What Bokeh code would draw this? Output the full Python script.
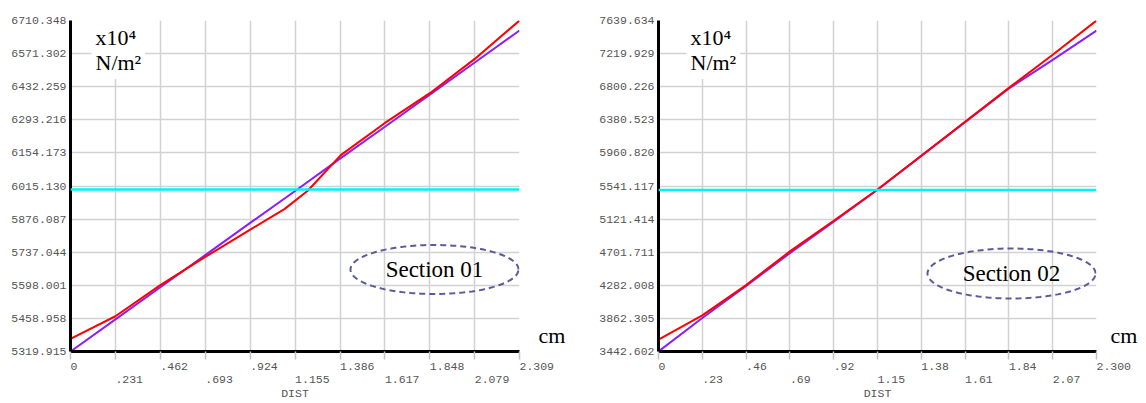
import numpy as np
from bokeh.plotting import figure
from bokeh.layouts import row
from bokeh.models import (FixedTicker, Span, Label, LinearAxis, PolyAnnotation,
                          PrintfTickFormatter, CustomJSTickFormatter)
from bokeh.embed import file_html
from bokeh.resources import INLINE

# ---------------- data: Section 01 ----------------
s1_xticks = [0, 0.231, 0.462, 0.693, 0.924, 1.155, 1.386, 1.617, 1.848, 2.079, 2.309]
s1_xlabels = ["0", ".231", ".462", ".693", ".924", "1.155", "1.386", "1.617", "1.848", "2.079", "2.309"]
s1_yticks = [5319.915, 5458.958, 5598.001, 5737.044, 5876.087, 6015.130,
             6154.173, 6293.216, 6432.259, 6571.302, 6710.348]
s1_purple_x = [0, 0.231, 0.462, 0.693, 0.924, 1.155, 1.386, 1.617, 1.848, 2.079, 2.309]
s1_purple_y = [5319.9, 5455.0, 5590.0, 5725.0, 5860.0, 5994.0, 6130.0, 6264.0, 6399.0, 6534.0, 6668.5]
s1_red_x = [0, 0.231, 0.462, 0.693, 0.924, 1.10, 1.22, 1.39, 1.617, 1.848, 2.079, 2.309]
s1_red_y = [5373.0, 5468.0, 5599.0, 5717.0, 5832.0, 5918.0, 5995.0, 6145.0, 6280.0, 6405.0, 6549.0, 6710.3]
s1_limit = 6000.0
s1_name = "Section 01"

# ---------------- data: Section 02 ----------------
s2_xticks = [0, 0.23, 0.46, 0.69, 0.92, 1.15, 1.38, 1.61, 1.84, 2.07, 2.30]
s2_xlabels = ["0", ".23", ".46", ".69", ".92", "1.15", "1.38", "1.61", "1.84", "2.07", "2.300"]
s2_yticks = [3442.602, 3862.305, 4282.008, 4701.711, 5121.414, 5541.117,
             5960.820, 6380.523, 6800.226, 7219.929, 7639.634]
s2_purple_x = [0, 0.23, 0.46, 0.69, 0.92, 1.15, 1.38, 1.61, 1.84, 2.07, 2.30]
s2_purple_y = [3442.6, 3868.0, 4275.0, 4688.0, 5090.0, 5493.0, 5923.0, 6351.0, 6779.0, 7140.0, 7512.0]
s2_red_x = [0, 0.23, 0.46, 0.69, 0.92, 1.15, 1.38, 1.61, 1.84, 2.07, 2.30]
s2_red_y = [3594.0, 3900.0, 4285.0, 4712.0, 5100.0, 5497.0, 5925.0, 6355.0, 6785.0, 7206.0, 7639.6]
s2_limit = 5490.0
s2_name = "Section 02"

unit_text = "x10\u2074\nN/m\u00b2"
x_title = "DIST"
x_unit = "cm"

MONO = "Liberation Mono"
SERIF = "Liberation Serif"
TICK_SIZE = "11.5px"
LABEL_GREY = "#555555"
GRID_GREY = "#d2d2d2"
HEIGHT = 403
B_TOP, B_BOTTOM = 20, 52


def make_chart(xt, xl, yt, px, py, rx, ry, limit, name, width, b_left, b_right,
               unit_dx, unit_dy, cm_standoff, ell_cx_px, ell_cy_px, ell_rx_px, ell_ry_px):
    frame_w = width - b_left - b_right
    frame_h = HEIGHT - B_TOP - B_BOTTOM
    x0, x1 = xt[0], xt[-1]
    y0, y1 = yt[0], yt[-1]
    p = figure(width=width, height=HEIGHT, output_backend="svg", toolbar_location=None,
               x_range=(x0, x1), y_range=(y0, y1),
               min_border_left=b_left, min_border_right=b_right,
               min_border_top=B_TOP, min_border_bottom=B_BOTTOM)
    p.outline_line_color = None
    p.background_fill_color = "white"

    # grid
    p.xgrid.ticker = FixedTicker(ticks=xt)
    p.ygrid.ticker = FixedTicker(ticks=yt)
    for g in (p.xgrid, p.ygrid):
        g.grid_line_color = GRID_GREY
        g.grid_line_width = 1.5

    # y axis
    p.yaxis.ticker = FixedTicker(ticks=yt)
    p.yaxis.formatter = PrintfTickFormatter(format="%.3f")
    p.yaxis.axis_line_color = "black"
    p.yaxis.axis_line_width = 3
    p.yaxis.minor_tick_line_color = None
    p.yaxis.major_tick_in = 0
    p.yaxis.major_tick_out = 0
    p.yaxis.major_label_standoff = 4
    p.yaxis.major_label_text_font = MONO
    p.yaxis.major_label_text_font_size = TICK_SIZE
    p.yaxis.major_label_text_color = LABEL_GREY

    # x axis: labels left-aligned at the tick (leading no-break spaces in a mono font),
    # staggered over two rows
    padded = ["\u00a0" * len(s) + s for s in xl]
    xa = p.xaxis[0]
    xa.ticker = FixedTicker(ticks=xt)
    xa.formatter = CustomJSTickFormatter(args=dict(labels=padded),
                                         code="return (index % 2 == 0) ? labels[index] : '';")
    xa.axis_line_color = "black"
    xa.axis_line_width = 3
    xa.minor_tick_line_color = None
    xa.major_tick_in = 0
    xa.major_tick_out = 8
    xa.major_tick_line_color = "#c4c4c4"
    xa.major_tick_line_width = 1.5
    xa.major_label_standoff = 0
    xa.major_label_text_font = MONO
    xa.major_label_text_font_size = TICK_SIZE
    xa.major_label_text_color = LABEL_GREY

    xb = LinearAxis(ticker=FixedTicker(ticks=xt),
                    formatter=CustomJSTickFormatter(args=dict(labels=padded),
                                                    code="return (index % 2 == 1) ? labels[index] : '';"),
                    axis_line_color=None, major_tick_line_color=None, minor_tick_line_color=None,
                    major_tick_in=0, major_tick_out=0, major_label_standoff=-3,
                    major_label_text_font=MONO, major_label_text_font_size=TICK_SIZE,
                    major_label_text_color=LABEL_GREY,
                    axis_label=x_title, axis_label_standoff=-2,
                    axis_label_text_font=MONO, axis_label_text_font_size=TICK_SIZE,
                    axis_label_text_font_style="normal", axis_label_text_color=LABEL_GREY)
    p.add_layout(xb, "below")

    # unit of x, set just right of the axis end
    cm_y = y0 + 16.0 / frame_h * (y1 - y0)
    ca = LinearAxis(ticker=FixedTicker(ticks=[cm_y]),
                    formatter=CustomJSTickFormatter(args=dict(t=x_unit), code="return t;"),
                    axis_line_color=None, major_tick_line_color=None, minor_tick_line_color=None,
                    major_tick_in=0, major_tick_out=0, major_label_standoff=cm_standoff,
                    major_label_text_font=SERIF, major_label_text_font_size="22px",
                    major_label_text_color="black")
    p.add_layout(ca, "right")

    # limit line and the two curves
    p.add_layout(Span(location=limit, dimension="width", line_color="#00f2f2", line_width=2.5))
    p.line(px, py, line_color="#8a1eff", line_width=2)
    p.line(rx, ry, line_color="#ff0000", line_width=2)

    # unit box
    p.add_layout(Label(x=x0, y=y1, x_offset=unit_dx, y_offset=unit_dy, text=unit_text,
                       text_align="left", text_baseline="top", text_line_height=1.02,
                       text_font=SERIF, text_font_size="22px", text_color="black",
                       background_fill_color="white", padding=4))

    # dashed ellipse with section name
    cx = x0 + ell_cx_px / frame_w * (x1 - x0)
    cy = y0 + ell_cy_px / frame_h * (y1 - y0)
    erx = ell_rx_px / frame_w * (x1 - x0)
    ery = ell_ry_px / frame_h * (y1 - y0)
    t = np.linspace(0, 2 * np.pi, 160)
    p.add_layout(PolyAnnotation(xs=list(cx + erx * np.cos(t)), ys=list(cy + ery * np.sin(t)),
                                fill_color=None, line_color="#5a5a9c", line_alpha=1.0,
                                line_width=2, line_dash="6 4"))
    p.add_layout(Label(x=cx, y=cy, text=name, text_align="center", text_baseline="middle",
                       text_font=SERIF, text_font_size="23px", text_color="black"))
    return p


p1 = make_chart(s1_xticks, s1_xlabels, s1_yticks, s1_purple_x, s1_purple_y,
                s1_red_x, s1_red_y, s1_limit, s1_name, width=590, b_left=70, b_right=71,
                unit_dx=21, unit_dy=0, cm_standoff=19,
                ell_cx_px=364, ell_cy_px=82, ell_rx_px=84, ell_ry_px=24.5)
p2 = make_chart(s2_xticks, s2_xlabels, s2_yticks, s2_purple_x, s2_purple_y,
                s2_red_x, s2_red_y, s2_limit, s2_name, width=556, b_left=68, b_right=50,
                unit_dx=28, unit_dy=0, cm_standoff=14,
                ell_cx_px=353, ell_cy_px=78, ell_rx_px=84, ell_ry_px=25)

layout = row(p1, p2)
open("out.html", "w").write(file_html(layout, INLINE))
